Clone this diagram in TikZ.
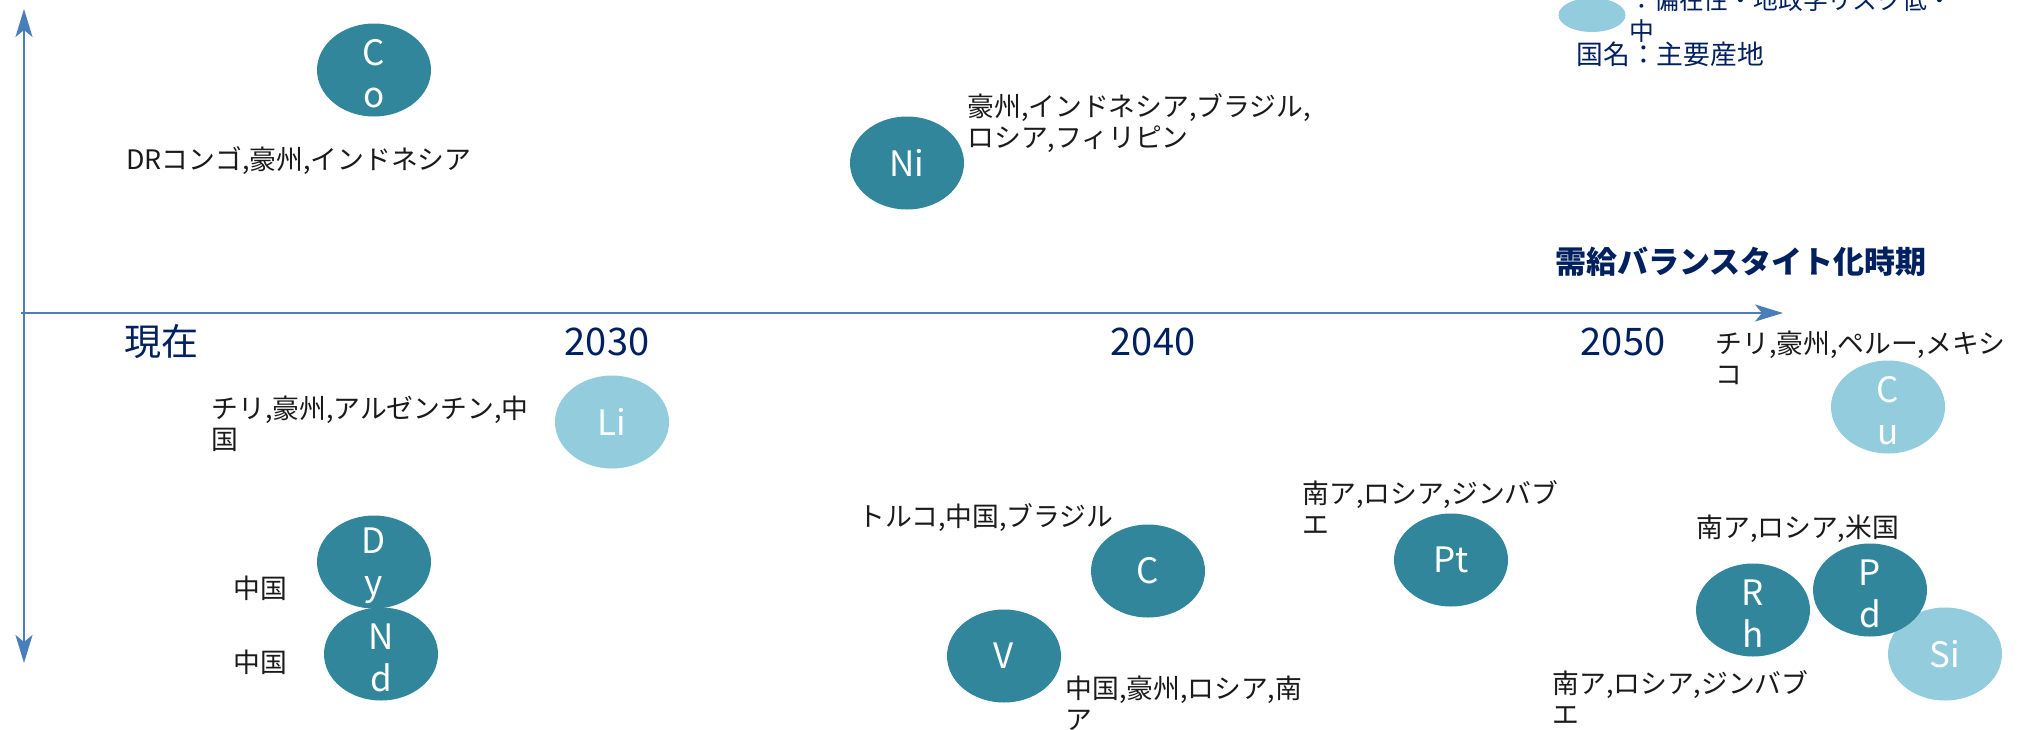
\documentclass[tikz,border=0pt]{standalone}
\usepackage{fontspec}
\setmainfont{Noto Sans CJK JP}
\usetikzlibrary{shapes.geometric,arrows.meta}
\definecolor{elemdark}{HTML}{31869B}
\definecolor{elemlight}{HTML}{93CDDD}
\definecolor{axisblue}{HTML}{4A7EBB}
\definecolor{navytext}{HTML}{002060}
\definecolor{labeltext}{HTML}{1A1A1A}
\begin{document}
\begin{tikzpicture}[x=0.5pt,y=-0.5pt,
  darkel/.style={ellipse, fill=elemdark, draw=none, inner sep=0pt, minimum width=57pt, minimum height=46.5pt},
  lightel/.style={ellipse, fill=elemlight, draw=none, inner sep=0pt, minimum width=57pt, minimum height=46.5pt},
  eltext/.style={text=white, align=center, inner sep=0pt, font=\fontsize{17.5pt}{21pt}\selectfont},
  stacked/.style={eltext, yshift=-2pt},
  country/.style={text=labeltext, inner sep=0pt, anchor=west, align=left, font=\fontsize{13.4pt}{15.5pt}\selectfont},
  navylab/.style={text=navytext, inner sep=0pt, align=left, font=\fontsize{13.4pt}{15.5pt}\selectfont},
  yearlab/.style={text=navytext, inner sep=0pt, font=\fontsize{19pt}{22pt}\selectfont},
  axisline/.style={draw=axisblue, line width=1.3pt, >={Stealth[length=14pt,width=8.5pt,inset=3.5pt]}}
]
\fill[white] (0,0) rectangle (2024,729);
\useasboundingbox (0,0) rectangle (2024,729);

% axes
\coordinate (vtop) at (24,9);
\coordinate (vbot) at (24,663);
\coordinate (hleft) at (21,313);
\coordinate (hright) at (1783,313);
\draw[axisline, <->] (vtop) -- (vbot);
\draw[axisline, ->] (hleft) -- (hright);

% legend
\node[lightel, minimum width=33.5pt, minimum height=17pt] (legel) at (1592,15) {};
\node[navylab, anchor=west, font=\fontsize{12.4pt}{15.5pt}\selectfont] (legtxt) at (1629,15) {：偏在性・地政学リスク低・\\中};
\node[navylab, anchor=west] (legname) at (1576,54) {国名：主要産地};

% header and year labels
\node[text=navytext, inner sep=0pt, anchor=west, font=\fontsize{15.5pt}{18pt}\selectfont\bfseries] (title) at (1555,262) {需給バランスタイト化時期};
\node[yearlab, font=\fontsize{18.5pt}{22pt}\selectfont] (now) at (161,342) {現在};
\node[yearlab] (y2030) at (607,342) {2030};
\node[yearlab] (y2040) at (1153,342) {2040};
\node[yearlab] (y2050) at (1623,342) {2050};

% elements
\node[darkel, label={[stacked]center:{C\\o}}] (co) at (374,70) {};
\node[darkel, label={[eltext]center:{Ni}}] (ni) at (907,163) {};
\node[lightel, label={[eltext]center:{Li}}] (li) at (612,422) {};
\node[darkel, label={[stacked]center:{D\\y}}] (dy) at (374,562) {};
\node[darkel, label={[stacked]center:{N\\d}}] (nd) at (381,654) {};
\node[darkel, label={[eltext]center:{C}}] (carbon) at (1148,571) {};
\node[darkel, label={[eltext]center:{V}}] (v) at (1004,656) {};
\node[darkel, label={[eltext]center:{Pt}}] (pt) at (1451,560) {};
\node[darkel, label={[stacked]center:{R\\h}}] (rh) at (1753,610) {};
\node[lightel, label={[eltext]center:{Si}}] (si) at (1945,654) {};
\node[darkel, label={[stacked]center:{P\\d}}] (pd) at (1870,590) {};
\node[lightel, label={[stacked]center:{C\\u}}] (cu) at (1888,407) {};

% country labels
\node[country] (coc) at (126,161) {DRコンゴ,豪州,インドネシア};
\node[country] (nic) at (967,123.5) {豪州,インドネシア,ブラジル,\\ロシア,フィリピン};
\node[country] (lic) at (211,424) {チリ,豪州,アルゼンチン,中\\国};
\node[country] (dyc) at (233,588) {中国};
\node[country] (ndc) at (233,662) {中国};
\node[country] (cc) at (858,518) {トルコ,中国,ブラジル};
\node[country] (vc) at (1065,703) {中国,豪州,ロシア,南\\ア};
\node[country] (ptc) at (1302,508) {南ア,ロシア,ジンバブ\\エ};
\node[country] (pdc) at (1696,529) {南ア,ロシア,米国};
\node[country] (rhc) at (1552,697.5) {南ア,ロシア,ジンバブ\\エ};
\node[country] (cuc) at (1715,358) {チリ,豪州,ペルー,メキシ\\コ};
\end{tikzpicture}
\end{document}
